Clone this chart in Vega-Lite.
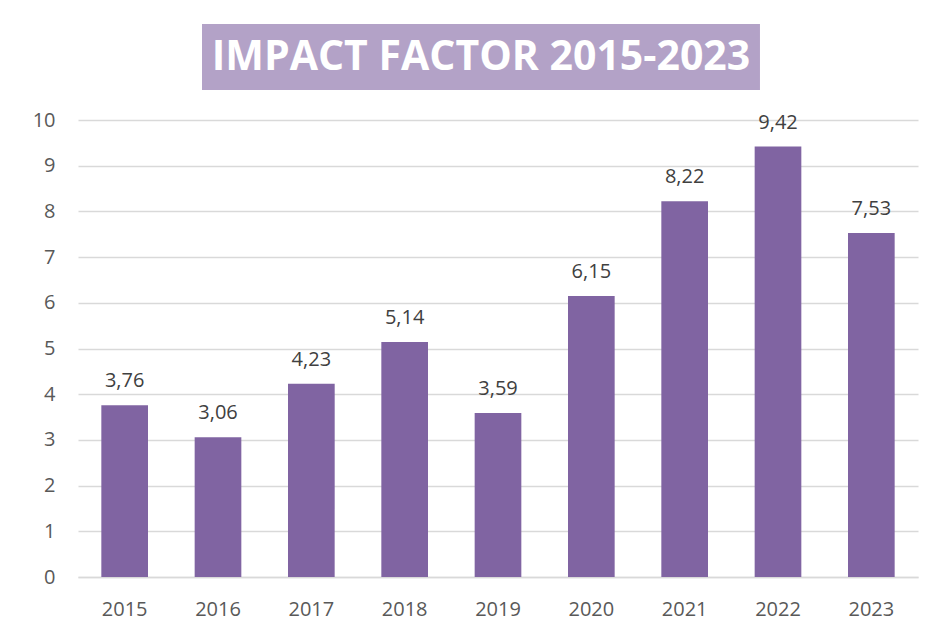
{
  "$schema": "https://vega.github.io/schema/vega-lite/v6.json",
  "padding": {"left": 32, "top": 24, "right": 6, "bottom": 12},
  "background": "white",
  "config": {
    "locale": {"number": {"decimal": ",", "thousands": ".", "grouping": [3], "currency": ["", " €"]}},
    "view": {"stroke": null},
    "font": "Open Sans"
  },
  "spacing": 20,
  "center": true,
  "vconcat": [
    {
      "width": 592,
      "height": 66,
      "data": {"values": [{"x0": 0, "x1": 1, "y0": 0, "y1": 1, "xm": 0.5, "ym": 0.5, "t": "IMPACT FACTOR 2015-2023"}]},
      "layer": [
        {
          "mark": {"type": "rect", "color": "#b3a2c7"},
          "encoding": {
            "x": {"field": "x0", "type": "quantitative", "scale": {"domain": [0, 1.061], "nice": false}, "axis": null},
            "x2": {"field": "x1"},
            "y": {"field": "y0", "type": "quantitative", "scale": {"domain": [0, 1], "nice": false}, "axis": null},
            "y2": {"field": "y1"}
          }
        },
        {
          "mark": {"type": "text", "color": "white", "fontWeight": "bold", "fontSize": 41, "font": "Open Sans", "align": "center", "baseline": "middle", "dy": 1},
          "encoding": {
            "x": {"field": "xm", "type": "quantitative", "scale": {"domain": [0, 1.061], "nice": false}, "axis": null},
            "y": {"field": "ym", "type": "quantitative", "scale": {"domain": [0, 1], "nice": false}, "axis": null},
            "text": {"field": "t"}
          }
        }
      ]
    },
    {
      "width": 840,
      "height": 457,
      "data": {"values": [
        {"year": "2015", "value": 3.76},
        {"year": "2016", "value": 3.06},
        {"year": "2017", "value": 4.23},
        {"year": "2018", "value": 5.14},
        {"year": "2019", "value": 3.59},
        {"year": "2020", "value": 6.15},
        {"year": "2021", "value": 8.22},
        {"year": "2022", "value": 9.42},
        {"year": "2023", "value": 7.53}
      ]},
      "encoding": {
        "x": {
          "field": "year", "type": "nominal", "sort": null,
          "scale": {"paddingInner": 0.5, "paddingOuter": 0.25},
          "axis": {"title": null, "labelAngle": 0, "labelFontSize": 20, "labelColor": "#595959", "labelFont": "Open Sans", "labelPadding": 22, "ticks": false, "domain": true, "domainColor": "#d9d9d9", "domainWidth": 1.5}
        },
        "y": {
          "field": "value", "type": "quantitative",
          "scale": {"domain": [0, 10], "nice": false},
          "axis": {"title": null, "values": [0,1,2,3,4,5,6,7,8,9,10], "labelFontSize": 20, "labelColor": "#595959", "labelFont": "Open Sans", "labelPadding": 23, "ticks": false, "domain": false, "grid": true, "gridColor": "#d9d9d9", "gridWidth": 1.5}
        }
      },
      "layer": [
        {"mark": {"type": "bar", "color": "#8064a2"}},
        {
          "mark": {"type": "text", "fontSize": 20, "color": "#404040", "font": "Open Sans", "baseline": "alphabetic", "dy": -18},
          "encoding": {"text": {"field": "value", "type": "quantitative", "format": ".2f"}}
        }
      ]
    }
  ]
}
